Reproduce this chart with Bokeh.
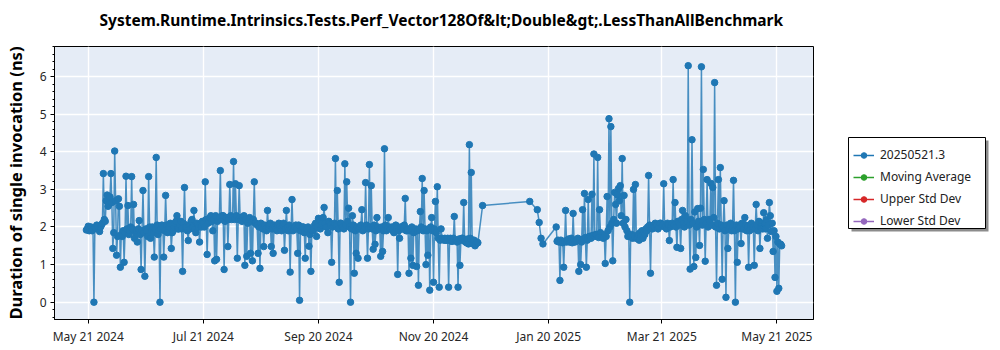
import pandas as pd
from bokeh.plotting import figure
from bokeh.layouts import row
from bokeh.models import (Range1d, FixedTicker, SingleIntervalTicker, DatetimeTickFormatter,
                          Legend, LegendItem, ColumnDataSource, Title)
from bokeh.embed import file_html
from bokeh.resources import INLINE

# ---------------- data ----------------
title_text = "System.Runtime.Intrinsics.Tests.Perf_Vector128Of&lt;Double&gt;.LessThanAllBenchmark"
y_label = "Duration of single invocation (ns)"
series_names = ["20250521.3", "Moving Average", "Upper Std Dev", "Lower Std Dev"]
series_colors = ["#1f77b4", "#2ca02c", "#d62728", "#9467bd"]

tick_dates = ["2024-05-21", "2024-07-21", "2024-09-20", "2024-11-20",
              "2025-01-20", "2025-03-21", "2025-05-21"]

# first block of runs, one morning run per day (starting 2024-05-20)
seg1_start = "2024-05-20"
seg1_values = [
    1.92, 2.02, 1.95, 1.90, 0.00, 1.97, 2.03, 1.88, 2.05, 3.42,
    2.15, 2.85, 2.60, 3.42, 1.43, 4.02, 1.25, 2.75, 0.93, 1.75,
    1.06, 3.35, 2.57, 1.90, 3.34, 2.60, 1.85, 1.60, 2.17, 0.87,
    2.97, 0.69, 1.90, 3.34, 1.70, 2.00, 1.20, 3.85, 1.80, 0.00,
    2.05, 1.20, 2.84, 1.85, 2.00, 1.43, 1.90, 2.10, 2.30, 1.95,
    2.15, 0.82, 3.05, 2.00, 1.64, 1.95, 2.20, 2.44, 1.85, 2.05,
    1.60, 2.00, 2.10, 3.20, 1.27, 2.15, 2.30, 1.90, 1.10, 1.14,
    2.20, 3.50, 2.30, 0.87, 2.25, 1.48, 3.13, 2.20, 3.74, 3.15,
    1.17, 3.10, 2.20, 2.25, 0.98, 1.22, 2.20, 1.30, 1.10, 3.20,
    2.10, 1.30, 0.90, 2.00, 1.48, 1.95, 2.44, 2.05, 1.48, 1.30,
    2.00, 1.90, 2.10, 1.95, 2.05, 1.38, 2.44, 1.90, 0.80, 2.73,
    1.95, 2.05, 1.30, 0.05, 1.90, 2.00, 1.17, 1.95, 1.49, 0.82,
    1.90, 2.05, 1.75, 2.23, 1.95, 2.10, 2.52, 2.00, 1.85, 2.10,
    1.06, 2.05, 3.82, 2.97, 0.53, 2.10, 2.00, 3.68, 3.20, 2.50,
    0.00, 2.30, 0.77, 1.30, 1.17, 2.00, 2.46, 1.95, 3.18, 1.17,
    3.66, 3.10, 1.41, 1.54, 2.25, 1.95, 1.22, 1.35, 4.08, 1.90,
    2.25, 1.95, 2.00, 1.85, 2.05, 0.74, 1.70, 2.00, 1.95, 2.76,
    1.90, 0.77, 1.17, 0.98, 1.90, 0.95, 0.45, 2.41, 3.29, 2.97,
    1.00, 1.25, 0.32, 2.25, 0.53, 2.68, 3.07, 0.40, 1.95, 1.67,
    1.70, 1.65, 0.40, 1.70, 1.62, 2.28, 1.65, 0.40, 0.98, 1.70,
    2.65, 1.60, 1.68, 4.19, 3.45, 1.55, 1.50, 1.60,
]
# same block, second (midday) run of each day
seg1_noon_values = [
    1.95, 1.90, 2.00, 1.93, 1.98, 2.05, 1.95, 2.00, 2.10, 2.20,
    2.70, 2.55, 2.80, 2.65, 1.85, 2.70, 1.75, 2.55, 1.80, 1.90,
    1.85, 1.95, 1.80, 2.00, 1.95, 1.70, 1.90, 1.95, 1.80, 1.90,
    1.85, 1.95, 1.75, 2.00, 1.90, 1.85, 1.95, 2.05, 1.90, 1.95,
    2.00, 1.90, 2.05, 1.95, 2.10, 1.85, 2.00, 2.15, 1.95, 2.05,
    1.95, 2.10, 2.00, 1.90, 2.05, 2.15, 2.00, 1.95, 2.10, 2.00,
    2.05, 2.15, 2.00, 2.20, 2.10, 2.25, 2.15, 2.20, 2.30, 2.15,
    2.25, 2.20, 2.30, 2.15, 2.25, 2.20, 2.30, 2.25, 2.20, 2.30,
    2.20, 2.25, 2.15, 2.30, 2.20, 2.10, 2.25, 2.15, 2.20, 2.10,
    2.05, 2.00, 2.10, 1.95, 2.05, 1.90, 2.00, 2.10, 1.95, 2.05,
    1.95, 2.05, 2.00, 1.90, 2.10, 1.95, 2.00, 2.05, 1.95, 1.90,
    2.00, 1.95, 2.05, 1.90, 2.00, 1.85, 1.95, 2.00, 1.80, 1.90,
    1.95, 2.10, 2.00, 2.20, 2.05, 2.25, 2.10, 2.00, 2.15, 2.05,
    2.00, 2.10, 2.05, 1.95, 2.10, 2.00, 1.95, 2.05, 2.15, 2.00,
    1.95, 2.05, 1.90, 2.00, 1.95, 2.05, 1.90, 2.00, 2.05, 1.95,
    2.00, 1.95, 2.05, 1.90, 2.00, 1.95, 2.00, 1.90, 2.05, 1.95,
    2.00, 1.95, 1.90, 2.00, 1.95, 1.90, 2.00, 1.95, 2.05, 1.90,
    1.95, 1.90, 2.00, 1.85, 1.95, 1.90, 1.95, 2.00, 1.90, 1.95,
    1.90, 1.95, 2.00, 1.90, 1.95, 1.85, 1.70, 1.65, 1.70, 1.65,
    1.65, 1.70, 1.65, 1.62, 1.70, 1.65, 1.60, 1.68, 1.65, 1.70,
    1.62, 1.58, 1.55, 1.70, 1.60, 1.65, 1.55, 1.58,
]

# isolated runs in the holiday gap
gap_dates = ["2024-12-16", "2025-01-10"]
gap_values = [2.57, 2.68]

seg2a_start = "2025-01-14"
seg2a_values = [2.46, 2.12, 1.70, 1.55]

seg2b_start = "2025-01-24"
seg2b_values = [
    2.00, 1.65, 0.58, 1.60, 0.93, 2.44, 1.65, 1.60, 1.70, 2.36,
    1.60, 1.65, 0.82, 1.00, 2.46, 2.89, 0.93, 2.73, 1.75, 2.87,
    3.94, 1.80, 3.85, 2.46, 1.75, 1.70, 1.03, 2.81, 4.88, 4.67,
    1.10, 2.92, 2.10, 3.02, 3.10, 3.82, 2.84, 2.20, 1.75, 0.00,
    1.80, 3.00, 3.13, 1.70, 1.65, 1.75, 1.70, 1.80, 1.90, 3.37,
    0.77, 1.95, 2.00, 2.05, 1.95, 2.10, 2.05, 3.15, 2.00, 2.10,
    1.64, 2.05, 3.26, 2.65, 1.46, 2.10, 1.43, 2.44, 2.00, 2.10,
    6.29, 0.88, 4.32, 0.95, 1.19, 2.49, 1.51, 6.26, 3.53, 1.09,
    3.26, 2.20, 3.16, 3.05, 5.84, 0.45, 3.26, 3.58, 0.61, 2.70,
    0.13, 1.43, 2.00, 1.90, 3.24, 0.00, 1.06, 2.05, 1.56, 1.95,
    2.25, 1.90, 0.93, 2.05, 1.95, 0.98, 2.60, 1.90, 1.43, 2.10,
    2.38, 1.95, 1.70, 2.65, 1.88, 1.35, 0.66, 0.29, 0.37, 1.54,
]
seg2b_noon_values = [
    1.62, 1.60, 1.65, 1.58, 1.62, 1.60, 1.68, 1.62, 1.58, 1.65,
    1.62, 1.70, 1.65, 1.60, 1.68, 1.72, 1.65, 1.75, 1.70, 1.78,
    1.75, 1.80, 1.72, 1.85, 1.78, 1.80, 1.75, 1.90, 2.00, 2.10,
    2.20, 2.60, 2.85, 2.70, 2.30, 2.10, 2.00, 1.90, 1.80, 1.75,
    1.70, 1.75, 1.70, 1.80, 1.85, 1.90, 1.85, 1.95, 2.00, 2.05,
    2.00, 2.05, 2.10, 2.05, 2.00, 2.10, 2.05, 2.00, 1.95, 2.05,
    2.00, 2.10, 2.05, 2.00, 2.15, 2.05, 2.20, 2.10, 2.30, 2.15,
    2.05, 2.20, 2.10, 2.40, 2.00, 2.15, 2.50, 2.05, 2.20, 2.10,
    2.00, 2.15, 2.05, 2.25, 2.00, 2.10, 1.95, 2.05, 2.00, 1.90,
    2.05, 1.95, 2.10, 2.00, 1.90, 2.05, 1.95, 2.00, 2.10, 1.95,
    2.05, 2.00, 1.90, 2.10, 2.00, 1.95, 2.05, 2.15, 2.00, 1.95,
    2.10, 2.20, 2.05, 2.30, 2.10, 1.90, 1.75, 1.60, 1.55, 1.50,
]

# ---------------- build the series ----------------
def daily(start, vals, hour=0):
    return list(pd.date_range(start, periods=len(vals), freq="D") + pd.Timedelta(hours=hour))

pairs = []
pairs += zip(daily(seg1_start, seg1_values), seg1_values)
pairs += zip(daily(seg1_start, seg1_noon_values, 12), seg1_noon_values)
pairs += zip([pd.Timestamp(d) for d in gap_dates], gap_values)
pairs += zip(daily(seg2a_start, seg2a_values), seg2a_values)
pairs += zip(daily(seg2b_start, seg2b_values), seg2b_values)
pairs += zip(daily(seg2b_start, seg2b_noon_values, 12), seg2b_noon_values)
pairs.sort(key=lambda t: t[0])
src = ColumnDataSource(dict(x=[t[0] for t in pairs], y=[t[1] for t in pairs]))

ref = pd.Timestamp("2024-05-21")
x0 = ref - pd.Timedelta(days=17.9)
x1 = ref + pd.Timedelta(days=384.4)

FONT = "Noto Sans"

p = figure(width=815, height=350, x_axis_type="datetime",
           output_backend="svg", toolbar_location=None, title_location=None,
           x_range=Range1d(x0, x1), y_range=Range1d(-0.46, 6.8),
           min_border_left=51, min_border_right=2,
           min_border_top=46, min_border_bottom=31)

p.background_fill_color = "#e5ecf6"
p.border_fill_color = "white"
p.outline_line_color = "black"
p.outline_line_width = 1
p.grid.grid_line_color = "white"
p.grid.grid_line_width = 1.4

# spacer between frame and title, then the title itself
p.add_layout(Title(text=" ", text_font=FONT, text_font_size="10px", standoff=0), "above")
p.add_layout(Title(text=title_text, align="left", offset=45, text_font=FONT,
                   text_font_size="15.5px", text_font_style="bold", text_color="black",
                   standoff=0), "above")

# x axis
p.xaxis.ticker = FixedTicker(ticks=[pd.Timestamp(d).value / 1e6 for d in tick_dates])
fmt = "%b %d %Y"
p.xaxis.formatter = DatetimeTickFormatter(
    microseconds=fmt, milliseconds=fmt, seconds=fmt, minsec=fmt, minutes=fmt,
    hourmin=fmt, hours=fmt, days=fmt, months=fmt, years=fmt)
p.xaxis.minor_tick_line_color = None

# y axis
p.yaxis.ticker = SingleIntervalTicker(interval=1, num_minor_ticks=5)
p.yaxis.axis_label = y_label
p.yaxis.axis_label_text_font = FONT
p.yaxis.axis_label_text_font_size = "16.5px"
p.yaxis.axis_label_text_font_style = "bold"
p.yaxis.axis_label_text_color = "black"
p.yaxis.axis_label_standoff = 10
p.yaxis.minor_tick_out = 2
p.yaxis.minor_tick_in = 0
p.yaxis.minor_tick_line_color = "black"

for ax in (p.xaxis, p.yaxis):
    ax.axis_line_color = "black"
    ax.major_tick_line_color = "black"
    ax.major_tick_out = 4
    ax.major_tick_in = 0
    ax.major_label_text_font = FONT
    ax.major_label_text_font_size = "12px"
    ax.major_label_text_color = "#262626"
    ax.major_label_standoff = 4

# main series
p.line("x", "y", source=src, line_color=series_colors[0], line_width=1.5, line_alpha=0.8)
p.scatter("x", "y", source=src, size=6.5, fill_color=series_colors[0],
          line_color=series_colors[0])

# ---------------- legend panel (separate small canvas, pixel coordinates) ----------------
q = figure(width=185, height=350, output_backend="svg", toolbar_location=None,
           x_axis_location=None, y_axis_location=None,
           min_border=0, x_range=Range1d(0, 185), y_range=Range1d(0, 273))
q.outline_line_color = None
q.background_fill_color = "white"
q.border_fill_color = "white"
q.grid.visible = False

# legend box and its drop shadow
q.quad(left=36, right=173, bottom=88, top=179, fill_color="#8c8c8c", line_color=None)
q.quad(left=33, right=170, bottom=91, top=182, fill_color="white",
       line_color="black", line_width=1)

renderers = []
for c in series_colors:
    dummy = ColumnDataSource(dict(x=[-50], y=[-50]))
    l = q.line("x", "y", source=dummy, line_color=c, line_width=1.5)
    s = q.scatter("x", "y", source=dummy, size=5, fill_color=c, line_color=c)
    renderers.append([l, s])

legend = Legend(items=[LegendItem(label=n, renderers=r) for n, r in zip(series_names, renderers)])
legend.location = (38, 90)
legend.padding = 4
legend.spacing = 5
legend.glyph_width = 21
legend.glyph_height = 14
legend.label_standoff = 6
legend.label_text_font = FONT
legend.label_text_font_size = "12px"
legend.label_text_color = "#222222"
legend.margin = 0
legend.background_fill_alpha = 0
legend.border_line_color = None
q.add_layout(legend, "center")

open("out.html", "w").write(file_html(row(p, q, spacing=0), INLINE))
